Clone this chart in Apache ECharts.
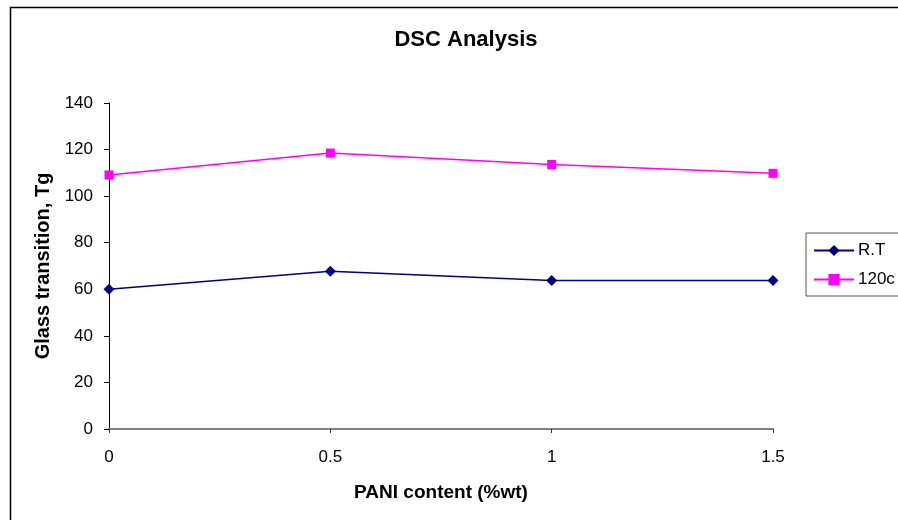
<!DOCTYPE html>
<html>
<head>
<meta charset="utf-8">
<script src="https://cdn.jsdelivr.net/npm/echarts@6/dist/echarts.min.js"></script>
<style>
  html, body { margin: 0; padding: 0; background: #fff; }
  #chart { width: 898px; height: 520px; }
</style>
</head>
<body>
<div id="chart"></div>
<script>
// PANI content (%wt) along the x axis
const categories = ['0', '0.5', '1', '1.5'];
// Glass transition temperatures
const rtValues = [60.0, 67.7, 63.8, 63.8];
const hotValues = [109.1, 118.5, 113.6, 109.8];
const yTicks = { min: 0, max: 140, interval: 20 };

const chart = echarts.init(document.getElementById('chart'), null, { renderer: 'canvas' });
const font = 'Arial, "Liberation Sans", sans-serif';

chart.setOption({
  backgroundColor: '#ffffff',
  animation: false,
  title: {
    text: 'DSC Analysis',
    left: 461,
    top: 24,
    textAlign: 'center',
    textStyle: { fontFamily: font, fontSize: 22, fontWeight: 'bold', color: '#000' }
  },
  graphic: [{
    type: 'rect',
    shape: { x: 10.5, y: 7.5, width: 1000, height: 1000 },
    style: { fill: 'none', stroke: '#000', lineWidth: 1.5 },
    silent: true
  }],
  legend: {
    orient: 'vertical',
    left: 806,
    top: 233,
    padding: [9, 60, 8, 7],
    itemGap: 12,
    itemWidth: 40,
    itemHeight: 14,
    borderColor: '#555',
    borderWidth: 1,
    textStyle: { fontFamily: font, fontSize: 17, color: '#000', padding: [0, 0, 0, -1] },
    data: ['R.T', '120c']
  },
  grid: { left: 109, right: 125, top: 103, bottom: 91 },
  xAxis: {
    type: 'category',
    data: categories,
    boundaryGap: false,
    name: 'PANI content (%wt)',
    nameLocation: 'middle',
    nameGap: 54,
    nameTextStyle: { fontFamily: font, fontSize: 19, fontWeight: 'bold', color: '#000' },
    axisLine: { lineStyle: { color: '#808080', width: 2 } },
    axisTick: { show: true, inside: false, length: 4, lineStyle: { color: '#333' }, alignWithLabel: true },
    axisLabel: { fontFamily: font, fontSize: 17, color: '#000', margin: 20 },
    splitLine: { show: false }
  },
  yAxis: {
    type: 'value',
    min: yTicks.min,
    max: yTicks.max,
    interval: yTicks.interval,
    name: 'Glass transition, Tg',
    nameLocation: 'middle',
    nameGap: 56,
    nameTextStyle: { fontFamily: font, fontSize: 20, fontWeight: 'bold', color: '#000' },
    axisLine: { show: true, lineStyle: { color: '#000', width: 1 } },
    axisTick: { show: true, length: 5, lineStyle: { color: '#000' } },
    axisLabel: { fontFamily: font, fontSize: 17, color: '#000', margin: 16 },
    splitLine: { show: false }
  },
  series: [
    {
      name: 'R.T',
      type: 'line',
      data: rtValues,
      symbol: 'diamond',
      symbolSize: 11,
      lineStyle: { color: '#000080', width: 1.5 },
      itemStyle: { color: '#000080' },
      z: 3
    },
    {
      name: '120c',
      type: 'line',
      data: hotValues,
      symbol: 'rect',
      symbolSize: 9,
      lineStyle: { color: '#ff00ff', width: 1.5 },
      itemStyle: { color: '#ff00ff' },
      z: 3
    }
  ]
});
</script>
</body>
</html>
